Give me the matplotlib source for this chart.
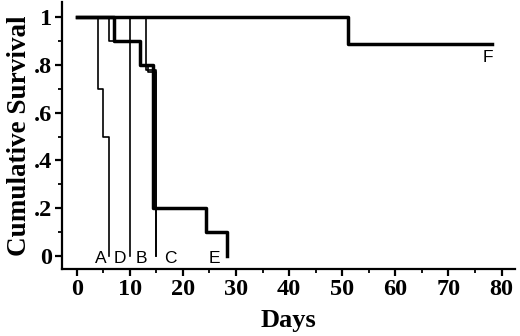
import matplotlib
matplotlib.use("Agg")
import matplotlib.pyplot as plt
import numpy as np

# survival curves: (event days, survival after each event)
a_days = [0, 4, 5, 6]
a_surv = [1, 0.7, 0.5, 0]
d_days = [0, 10]
d_surv = [1, 0]
b_days = [0, 6, 12, 13.5, 15]
b_surv = [1, 0.9, 0.8, 0.77, 0]
c_days = [0, 13, 15]
c_surv = [1, 0.78, 0]
e_days = [0, 7, 12, 14.3, 24.4, 28.3]
e_surv = [1, 0.9, 0.8, 0.2, 0.1, 0]
f_days = [0, 51, 78.3]
f_surv = [1, 0.89, 0.89]

etiquetas = ["A", "D", "B", "C", "E", "F"]
etiq_x = [4.5, 8.1, 12.2, 17.6, 26.0, 77.5]
etiq_y = [-0.01, -0.01, -0.01, -0.01, -0.01, 0.83]

x_ticks = [0, 10, 20, 30, 40, 50, 60, 70, 80]
y_ticks = [0, 0.2, 0.4, 0.6, 0.8, 1]
y_tick_labels = ["0", ".2", ".4", ".6", ".8", "1"]

fig = plt.figure(figsize=(5.2, 3.36), dpi=100)
ax = fig.add_axes([0.119, 0.2, 0.871, 0.794])

# Curvas delgadas
for dd, ss in [(a_days, a_surv), (d_days, d_surv), (b_days, b_surv), (c_days, c_surv)]:
    ax.step(dd, ss, where="post", color="black", lw=1.2)

# Curvas gruesas
ax.step(e_days, e_surv, where="post", color="black", lw=2.5)
ax.step(f_days, f_surv, where="post", color="black", lw=2.5)

for t, x, y in zip(etiquetas, etiq_x, etiq_y):
    ax.text(x, y, t, ha="center", va="center", fontsize=12.5,
            family="Liberation Sans")

ax.set_xlim(-2.8, 82.5)
ax.set_ylim(-0.055, 1.065)
ax.spines["top"].set_visible(False)
ax.spines["right"].set_visible(False)
ax.spines["left"].set_linewidth(1.6)
ax.spines["bottom"].set_linewidth(1.6)

ax.set_xticks(x_ticks)
ax.set_xticks(np.arange(5, 85, 10), minor=True)
ax.set_yticks(y_ticks)
ax.set_yticklabels(y_tick_labels)
ax.set_yticks(np.arange(0.1, 1.0, 0.2), minor=True)
ax.tick_params(which="major", length=5, width=1.6, direction="out", pad=2)
ax.tick_params(which="minor", length=3, width=1.3, direction="out", pad=2)

for lab in ax.get_xticklabels() + ax.get_yticklabels():
    lab.set_family("Liberation Serif")
    lab.set_fontweight("bold")
    lab.set_fontsize(17.5)

ax.set_xlabel("Days", family="Liberation Serif", fontweight="bold", fontsize=19, labelpad=7)
ax.set_ylabel("Cumulative Survival", family="Liberation Serif", fontweight="bold", fontsize=19.5, labelpad=1)

fig.savefig("out.png", dpi=100)
